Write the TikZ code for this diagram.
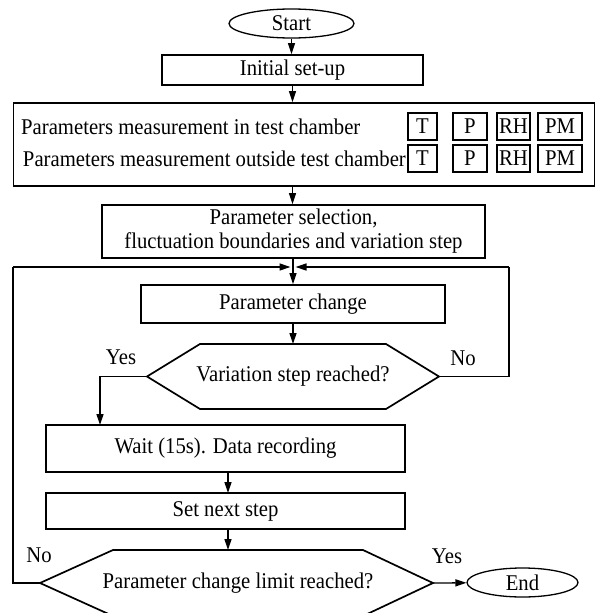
\documentclass[tikz,border=0pt]{standalone}
\usepackage{fontspec}
\setmainfont{Liberation Serif}[FakeStretch=0.92]
\usetikzlibrary{arrows.meta,shapes.geometric}

\tikzset{
  every node/.style={font=\fontsize{22.5}{24}\selectfont, inner sep=0pt},
  box/.style={draw, line width=1.7pt, rectangle},
  tag/.style={draw, line width=1.4pt, rectangle, minimum height=27pt},
  term/.style={draw, line width=1.3pt, ellipse},
  hexa/.style={draw, line width=1.7pt, line join=miter},
  flow/.style={line width=1.3pt, -{Triangle[length=11pt,width=7pt]}},
  wire/.style={line width=1.3pt},
  lbl/.style={}
}

\begin{document}
\begin{tikzpicture}[x=1pt,y=-1pt]
\useasboundingbox (0,0) rectangle (596,613);
\clip (0,0) rectangle (596,613);

% terminals and process boxes
\node[term, minimum width=125pt, minimum height=29pt] (start) at (291.5,23.5) {Start};
\node[box, minimum width=261pt, minimum height=30pt] (init) at (292.5,70) {Initial set-up};
\node[box, minimum width=581pt, minimum height=83pt] (meas) at (304,144.5) {};

% measurement rows
\node[anchor=west] (rowin) at (21,126.5) {Parameters measurement in test chamber};
\node[anchor=east] (rowout) at (406,158.5) {Parameters measurement outside test chamber};
\foreach \r/\y in {a/126.5, b/158.5}{
  \node[tag, minimum width=29pt] (T\r)  at (422.5,\y) {T};
  \node[tag, minimum width=34pt] (P\r)  at (470,\y)   {P};
  \node[tag, minimum width=33pt] (RH\r) at (513.5,\y) {RH};
  \node[tag, minimum width=44pt] (PM\r) at (560,\y)   {PM};
}

\node[box, minimum width=383pt, minimum height=53pt, align=center] (sel) at (293.5,231.5)
  {Parameter selection,\\fluctuation boundaries and variation step};
\node[box, minimum width=304pt, minimum height=38pt] (chg) at (293,304) {Parameter change};

% first decision
\coordinate (d1w) at (147,376.5);
\coordinate (d1e) at (439,376.5);
\coordinate (d1n) at (293,344);
\draw[hexa] (d1w) -- (200,344) -- (386,344) -- (d1e) -- (386,409) -- (200,409) -- cycle;
\node (dec1) at (293,376.5) {Variation step reached?};

\node[box, minimum width=359pt, minimum height=47pt] (wait) at (225.5,448.5) {Wait (15s). Data recording};
\node[box, minimum width=359pt, minimum height=36pt] (next) at (225.5,511) {Set next step};

% second decision
\coordinate (d2w) at (40,583);
\coordinate (d2e) at (433,583);
\coordinate (d2n) at (228,550);
\draw[hexa] (d2w) -- (113,550) -- (363,550) -- (d2e) -- (363,616) -- (113,616) -- cycle;
\node (dec2) at (238,583) {Parameter change limit reached?};

\node[term, minimum width=111pt, minimum height=29pt] (end) at (522.5,582.5) {End};

% loop junction above the parameter change box
\coordinate (jl) at (290.5,267);
\coordinate (jr) at (295.5,267);
\coordinate (lc) at (13,267);
\coordinate (rc) at (509,267);

% connectors
\draw[flow] (start) -- (start |- init.north);
\draw[flow] (init) -- (init |- meas.north);
\draw[flow] (meas.south -| init) -- (init |- sel.north);
\draw[flow] (sel.south -| chg) -- (chg.north);
\draw[flow] (chg) -- (d1n);
\draw[flow] (d1w) -- (100,376.5) -- (100,425);
\draw[wire] (d1e) -- (rc |- d1e) -- (rc);
\draw[flow] (rc) -- (jr);
\draw[flow] (228,472) -- (228,493);
\draw[flow] (228,529) -- (d2n);
\draw[wire] (d2w) -- (lc |- d2w) -- (lc);
\draw[flow] (lc) -- (jl);
\draw[flow] (d2e) -- (end);

% branch labels
\node[lbl] (yes1) at (121,357) {Yes};
\node[lbl] (no1) at (463,358) {No};
\node[lbl] (no2) at (39,555) {No};
\node[lbl] (yes2) at (447,556) {Yes};
\end{tikzpicture}
\end{document}
